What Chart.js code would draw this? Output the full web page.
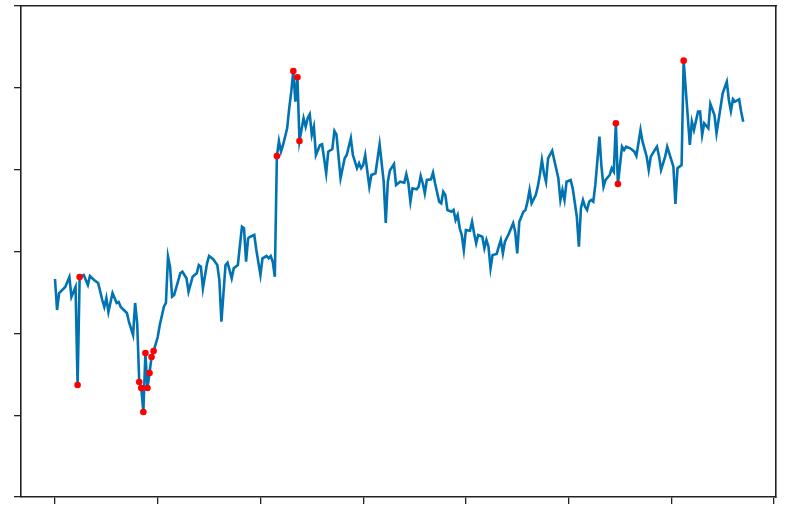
<!DOCTYPE html>
<html>
<head>
<meta charset="utf-8">
<script src="https://cdn.jsdelivr.net/npm/chart.js@4/dist/chart.umd.min.js"></script>
<style>
  html, body { margin: 0; padding: 0; background: #fff; }
  #grafica { display: block; }
</style>
</head>
<body>
<canvas id="grafica" width="789" height="513"></canvas>
<script>
// serie (eje y en unidades de marca, etiquetas recortadas)
const dias = [
  0, 1, 2, 5, 7, 8, 10, 11, 12, 14, 16, 17, 19, 21, 23, 24, 25, 26, 28, 30,
  31, 32, 35, 36, 38, 39, 40, 41, 42, 43, 44, 45, 46, 47, 48, 50, 51, 53, 54, 55,
  56, 57, 58, 61, 62, 64, 65, 67, 69, 70, 71, 72, 74, 75, 77, 79, 80, 81, 83, 84,
  86, 87, 89, 91, 92, 93, 94, 95, 97, 98, 100, 101, 103, 104, 105, 106, 107, 108, 109, 110,
  111, 113, 114, 115, 116, 117, 118, 119, 121, 122, 123, 124, 125, 126, 127, 129, 130, 132, 133, 135,
  136, 137, 139, 141, 142, 144, 145, 147, 148, 149, 150, 151, 153, 154, 156, 158, 160, 161, 162, 163,
  165, 166, 168, 170, 171, 172, 173, 174, 176, 177, 178, 179, 180, 181, 183, 184, 185, 187, 188, 189,
  190, 191, 193, 194, 195, 196, 197, 198, 199, 200, 202, 203, 204, 205, 206, 208, 209, 210, 211, 212,
  213, 215, 216, 217, 218, 219, 221, 222, 223, 224, 225, 226, 228, 229, 230, 231, 232, 234, 235, 236,
  237, 238, 239, 240, 242, 243, 245, 246, 247, 248, 249, 251, 252, 254, 255, 256, 257, 258, 259, 260,
  261, 262, 263, 265, 266, 267, 268, 270, 271, 272, 273, 274, 276, 277, 278, 280, 282, 283, 285, 286,
  288, 289, 290, 292, 293, 294, 295, 297, 298, 299, 301, 302, 303, 305, 306, 308, 309, 310, 311, 313,
  314, 315, 316, 318, 319, 321, 322, 323, 325, 327, 328, 329, 330, 331, 333, 334, 335
];
const valores = [
  2.664, 2.285, 2.493, 2.566, 2.688, 2.444, 2.566, 1.369, 2.688, 2.713, 2.591, 2.701, 2.652, 2.615, 2.407, 2.322, 2.432, 2.261, 2.493, 2.371,
  2.383, 2.322, 2.249, 2.139, 1.980, 2.371, 2.126, 1.405, 1.332, 1.039, 1.760, 1.332, 1.515, 1.711, 1.784, 1.955, 2.102, 2.326, 2.371, 2.937,
  2.814, 2.448, 2.469, 2.734, 2.753, 2.673, 2.509, 2.692, 2.734, 2.835, 2.814, 2.550, 2.856, 2.945, 2.905, 2.835, 2.652, 2.142, 2.835, 2.863,
  2.673, 2.795, 2.835, 3.303, 3.284, 2.875, 3.161, 3.181, 3.202, 3.018, 2.713, 2.917, 2.945, 2.917, 2.945, 2.875, 2.692, 4.167, 4.350, 4.220,
  4.302, 4.506, 4.750, 4.953, 5.206, 4.831, 5.130, 4.350, 4.628, 4.525, 4.628, 4.677, 4.424, 4.525, 4.179, 4.302, 4.310, 3.956, 4.220, 4.253,
  4.473, 4.432, 3.895, 4.139, 4.179, 4.384, 4.179, 4.017, 4.078, 4.017, 4.057, 4.179, 3.792, 3.935, 3.956, 4.310, 3.853, 3.350, 3.850, 3.990,
  4.069, 3.813, 3.853, 3.841, 3.944, 3.834, 3.609, 3.772, 3.760, 3.792, 3.923, 3.834, 3.711, 3.874, 3.882, 3.963, 3.834, 3.609, 3.589, 3.731,
  3.691, 3.507, 3.486, 3.507, 3.385, 3.446, 3.284, 3.202, 3.018, 3.263, 3.254, 3.364, 3.222, 3.100, 3.202, 3.181, 3.039, 3.141, 3.059, 2.795,
  2.957, 2.970, 3.059, 3.141, 2.978, 3.120, 3.222, 3.284, 3.345, 3.242, 2.978, 3.364, 3.486, 3.507, 3.609, 3.752, 3.589, 3.691, 3.792, 3.935,
  4.118, 3.956, 3.853, 4.139, 4.232, 4.118, 3.895, 3.629, 3.752, 3.629, 3.853, 3.874, 3.772, 3.425, 3.059, 3.528, 3.629, 3.548, 3.507, 3.609,
  3.629, 3.609, 3.813, 4.403, 4.036, 3.792, 3.874, 3.935, 4.017, 3.975, 4.567, 3.825, 4.281, 4.241, 4.281, 4.261, 4.220, 4.167, 4.485, 4.342,
  4.159, 3.996, 4.159, 4.241, 4.281, 4.167, 3.996, 4.159, 4.281, 4.200, 4.036, 3.581, 4.017, 4.057, 5.332, 4.647, 4.302, 4.586, 4.485, 4.709,
  4.709, 4.424, 4.567, 4.506, 4.803, 4.668, 4.445, 4.607, 4.933, 5.075, 4.852, 4.717, 4.860, 4.831, 4.860, 4.709, 4.586
];
// dias marcados en rojo
const diasMarcados = [11, 12, 41, 42, 43, 44, 45, 46, 47, 48, 108, 116, 118, 119, 273, 274, 306];

const marcasX = [0, 50, 100, 150, 200, 250, 300, 350];
const marcasY = [0, 1, 2, 3, 4, 5, 6];

const serie = dias.map((d, i) => ({ x: d, y: valores[i] }));
const marcados = diasMarcados.map(d => ({ x: d, y: valores[dias.indexOf(d)] }));

const colorEje = "#222222";
const ejeOculto = {
  display: true,
  ticks: { display: false },
  grid: { display: false, drawTicks: false },
  border: { display: true, color: colorEje, width: 1.6 },
};

new Chart(document.getElementById("grafica"), {
  type: "line",
  data: {
    datasets: [
      {
        data: marcados,
        type: "scatter",
        showLine: false,
        pointStyle: "circle",
        pointRadius: 3.3,
        pointBackgroundColor: "#ff0000",
        pointBorderColor: "#ff0000",
        pointBorderWidth: 0,
        order: 0,
      },
      {
        data: serie,
        borderColor: "#0173b2",
        borderWidth: 2.6,
        pointRadius: 0,
        tension: 0,
        fill: false,
        order: 1,
      },
    ],
  },
  options: {
    responsive: false,
    animation: false,
    layout: { padding: { left: 14, right: 13, top: 6, bottom: 9 } },
    plugins: { legend: { display: false }, tooltip: { enabled: false } },
    scales: {
      x: {
        type: "linear",
        min: -16.55,
        max: 350.95,
        afterBuildTicks: s => { s.ticks = marcasX.map(v => ({ value: v })); },
        ticks: { display: false },
        grid: { drawOnChartArea: false, drawTicks: true, tickLength: 7, color: colorEje, lineWidth: 1.3 },
        border: { display: true, color: colorEje, width: 1.6 },
      },
      y: {
        type: "linear",
        min: 0,
        max: 6,
        afterBuildTicks: s => { s.ticks = marcasY.map(v => ({ value: v })); },
        ticks: { display: false },
        grid: { drawOnChartArea: false, drawTicks: true, tickLength: 7, color: colorEje, lineWidth: 1.3 },
        border: { display: true, color: colorEje, width: 1.6 },
      },
      xArriba: { ...ejeOculto, type: "linear", position: "top" },
      yDerecha: { ...ejeOculto, type: "linear", position: "right" },
    },
  },
});
</script>
</body>
</html>
